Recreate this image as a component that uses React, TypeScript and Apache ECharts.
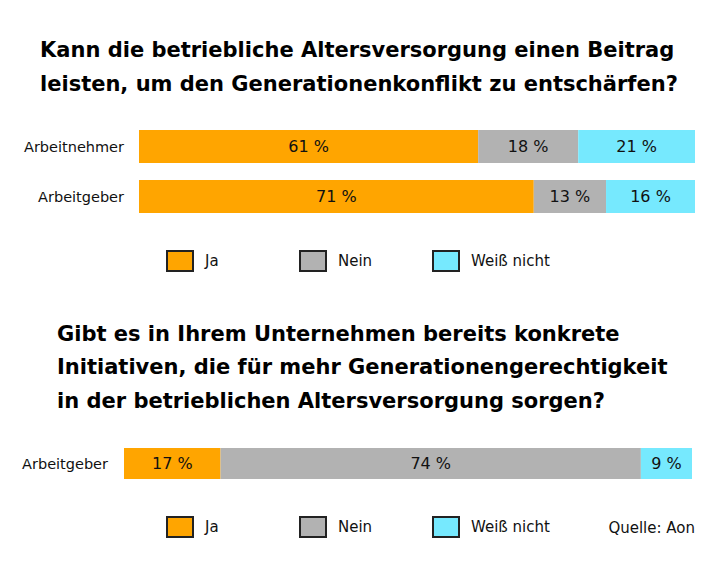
import React, { useEffect, useRef } from "react";
import * as echarts from "echarts";

const seriesNames = ["Ja", "Nein", "Weiß nicht"];
const colors = ["#FFA500", "#B2B2B2", "#76E9FE"];

const cats1 = ["Arbeitnehmer", "Arbeitgeber"];
const ja1 = [61, 71];
const nein1 = [18, 13];
const weiss1 = [21, 16];

const cats2 = ["Arbeitgeber"];
const ja2 = [17];
const nein2 = [74];
const weiss2 = [9];

const title1 = "Kann die betriebliche Altersversorgung einen Beitrag\nleisten, um den Generationenkonflikt zu entschärfen?";
const title2 = "Gibt es in Ihrem Unternehmen bereits konkrete\nInitiativen, die für mehr Generationengerechtigkeit\nin der betrieblichen Altersversorgung sorgen?";
const source = "Quelle: Aon";

const FONT = "DejaVu Sans, Liberation Sans, Arial, sans-serif";
const legendLefts = [166, 299, 432];

export default function App() {
  const ref = useRef<HTMLDivElement>(null);
  useEffect(() => {
    if (!ref.current) return;
    const chart = echarts.init(ref.current, undefined, { renderer: "svg" });
    const data1 = [ja1, nein1, weiss1];
    const data2 = [ja2, nein2, weiss2];
    const label = {
      show: true,
      position: "inside",
      formatter: "{c} %",
      fontSize: 16,
      color: "#111",
      fontFamily: FONT,
    };
    const series: any[] = [];
    seriesNames.forEach((n, i) => {
      series.push({
        name: n,
        type: "bar",
        stack: "a",
        xAxisIndex: 0,
        yAxisIndex: 0,
        barWidth: 33,
        data: data1[i],
        itemStyle: { color: colors[i] },
        label,
      });
    });
    seriesNames.forEach((n, i) => {
      series.push({
        name: n,
        type: "bar",
        stack: "b",
        xAxisIndex: 1,
        yAxisIndex: 1,
        barWidth: 31,
        data: data2[i],
        itemStyle: { color: colors[i] },
        label,
      });
    });
    const legends: any[] = [];
    [250, 516].forEach((top) => {
      seriesNames.forEach((n, i) => {
        legends.push({
          data: [{ name: n, itemStyle: { color: colors[i], borderColor: "#222", borderWidth: 2 } }],
          icon: "rect",
          itemWidth: 26,
          itemHeight: 20,
          padding: 0,
          left: legendLefts[i],
          top,
          selectedMode: false,
          textStyle: {
            fontSize: 15,
            color: "#111",
            fontFamily: FONT,
            padding: [0, 0, 0, 7],
          },
        });
      });
    });
    chart.setOption({
      animation: false,
      backgroundColor: "#fff",
      title: [
        {
          text: title1,
          left: 35,
          top: 28,
          textStyle: { fontSize: 21, fontWeight: "bold", color: "#000", fontFamily: FONT, lineHeight: 34 },
        },
        {
          text: title2,
          left: 52,
          top: 312,
          textStyle: { fontSize: 21, fontWeight: "bold", color: "#000", fontFamily: FONT, lineHeight: 33.5 },
        },
        {
          text: source,
          right: 17,
          top: 515,
          textStyle: { fontSize: 15, fontWeight: "normal", color: "#111", fontFamily: FONT },
        },
      ],
      legend: legends,
      grid: [
        { left: 139, width: 556, top: 121.5, height: 100 },
        { left: 124, width: 568, top: 448, height: 31 },
      ],
      xAxis: [
        { type: "value", gridIndex: 0, min: 0, max: 100, show: false },
        { type: "value", gridIndex: 1, min: 0, max: 100, show: false },
      ],
      yAxis: [
        {
          type: "category",
          gridIndex: 0,
          data: cats1,
          inverse: true,
          axisLine: { show: false },
          axisTick: { show: false },
          axisLabel: { fontSize: 14.5, color: "#111", fontFamily: FONT, margin: 15 },
        },
        {
          type: "category",
          gridIndex: 1,
          data: cats2,
          inverse: true,
          axisLine: { show: false },
          axisTick: { show: false },
          axisLabel: { fontSize: 14.5, color: "#111", fontFamily: FONT, margin: 16 },
        },
      ],
      series,
    });
    return () => chart.dispose();
  }, []);
  return <div ref={ref} style={{ width: 717, height: 567, margin: -8 }} />;
}
